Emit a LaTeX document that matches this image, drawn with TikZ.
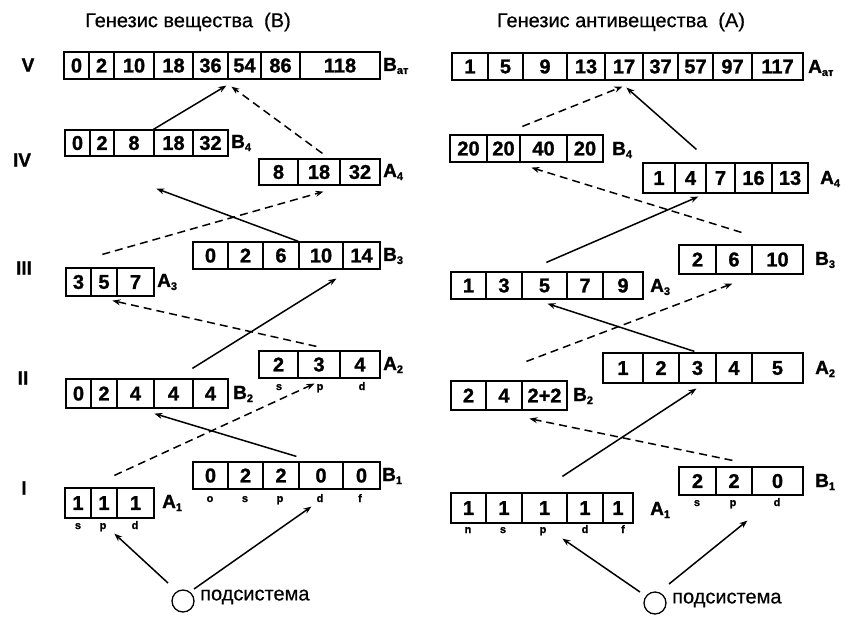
\documentclass[tikz,border=0pt]{standalone}
\usepackage{fontspec}
\setmainfont{Liberation Sans}
\newfontfamily\heavyfont{Liberation Sans Bold}[FakeBold=1.2]
\newfontfamily\titlefont{Liberation Sans}[FakeBold=0.5]
\usetikzlibrary{arrows.meta,calc}

\tikzset{
  num/.style={font=\heavyfont\fontsize{20}{20}\selectfont, inner sep=0pt},
  frame/.style={draw, line width=1.2pt, inner sep=0pt},
  sep/.style={line width=1.2pt},
  lab/.style={font=\heavyfont\fontsize{19}{19}\selectfont, anchor=west, inner sep=0pt},
  orb/.style={font=\heavyfont\fontsize{11}{11}\selectfont, inner sep=0pt, anchor=base},
  roman/.style={font=\heavyfont\fontsize{19}{19}\selectfont, inner sep=0pt},
  heading/.style={font=\titlefont\fontsize{20}{20}\selectfont, inner sep=0pt},
  subsys/.style={draw, circle, line width=1.3pt, minimum size=22pt, inner sep=0pt},
  subtext/.style={font=\titlefont\fontsize{20}{20}\selectfont, anchor=west, inner sep=0pt},
  link/.style={line width=1.5pt, -{Stealth[length=8pt,width=6pt]}},
  dlink/.style={link, dash pattern=on 8pt off 5pt},
}

% label with a lowered small index
\newcommand\subl[2]{#1\raisebox{-3pt}{\fontsize{11}{11}\selectfont #2}}

% a row of numbered cells: name, x left, x right, y top, y bottom, list of cells a/b/value
\newcommand\cellrow[6]{%
  \pgfmathsetmacro\rw{#3-#2}%
  \pgfmathsetmacro\rh{#5-#4}%
  \node[frame, minimum width=\rw pt, minimum height=\rh pt] (#1) at ({(#2+#3)/2},{(#4+#5)/2}) {};
  \foreach \a/\b/\v [count=\k] in {#6} {
    \draw[sep] (\a,#4) -- (\a,#5);
    \node[num] (#1-c\k) at ({(\a+\b)/2},{(#4+#5)/2}) {\v};
  }%
}

\begin{document}
\begin{tikzpicture}[x=1pt,y=-1pt]
\useasboundingbox (0,0) rectangle (845,622);

% ---------------- matter ----------------
\node[heading] (lhead) at (188,22) {Генезис вещества\ \ (B)};

\node[roman] (rV)   at (28,65)  {V};
\node[roman] (rIV)  at (22,160) {IV};
\node[roman] (rIII) at (24,268) {III};
\node[roman] (rII)  at (23,378) {II};
\node[roman] (rI)   at (24,488) {I};

\cellrow{lBat}{64}{380}{52}{79}{64/89/0,89/114/2,114/154/10,154/193/18,193/228/36,228/261/54,261/300/86,300/380/118}
\node[lab] (lBat-l) at (383,66) {\subl{B}{ат}};

\cellrow{lB4}{65}{228}{130}{156}{65/90/0,90/114/2,114/154/8,154/193/18,193/228/32}
\node[lab] (lB4-l) at (231,143) {\subl{B}{4}};

\cellrow{lA4}{259}{380}{159}{185}{259/298/8,298/340/18,340/380/32}
\node[lab] (lA4-l) at (383,172) {\subl{A}{4}};

\cellrow{lB3}{193}{380}{242}{269}{193/228/0,228/263/2,263/299/6,299/343/10,343/380/14}
\node[lab] (lB3-l) at (383,256) {\subl{B}{3}};

\cellrow{lA3}{66}{154}{268}{296}{66/91/3,91/117/5,117/154/7}
\node[lab] (lA3-l) at (157,282) {\subl{A}{3}};

\cellrow{lA2}{259}{380}{351}{378}{259/298/2,298/340/3,340/380/4}
\node[lab] (lA2-l) at (383,365) {\subl{A}{2}};
\foreach \x/\t [count=\k] in {279/s,320/p,362/d} \node[orb] (lA2-o\k) at (\x,390) {\t};

\cellrow{lB2}{66}{228}{379}{408}{66/91/0,91/117/2,117/154/4,154/193/4,193/228/4}
\node[lab] (lB2-l) at (233,394) {\subl{B}{2}};

\cellrow{lB1}{193}{380}{462}{489}{193/228/0,228/263/2,263/299/2,299/343/0,343/380/0}
\node[lab] (lB1-l) at (382,476) {\subl{B}{1}};
\foreach \x/\t [count=\k] in {210/o,245/s,280/p,320/d,360/f} \node[orb] (lB1-o\k) at (\x,502) {\t};

\cellrow{lA1}{65}{154}{488}{518}{65/91/1,91/117/1,117/154/1}
\node[lab] (lA1-l) at (162,503) {\subl{A}{1}};
\foreach \x/\t [count=\k] in {78/s,103/p,135/d} \node[orb] (lA1-o\k) at (\x,529) {\t};

\node[subsys] (lsub) at (183,601) {};
\node[subtext] (lsub-t) at (200,597) {подсистема};

\draw[link]  ($(lB4.north west)+(89,0)$)   -- ($(lBat.south west)+(163,6)$);
\draw[dlink] ($(lA4.north west)+(64,-5)$)  -- ($(lBat.south west)+(168,7)$);
\draw[link]  ($(lB3.north west)+(106,0)$)  -- ($(lB4.south west)+(92,32)$);
\draw[dlink] ($(lA3.north west)+(37,-13)$) -- ($(lA4.south west)+(65,6)$);
\draw[link]  ($(lB2.north west)+(127,-10)$) -- ($(lB3.south west)+(144,9)$);
\draw[dlink] ($(lA2.north west)+(58,-4)$)  -- ($(lA3.south west)+(47,4)$);
\draw[link]  ($(lB1.north west)+(104,-5)$) -- ($(lB2.south west)+(89,5)$);
\draw[dlink] ($(lA1.north west)+(50,-12)$) -- ($(lA2.south west)+(56,5)$);
\draw[link]  ($(lsub.center)+(-15,-18)$)   -- ($(lA1.south west)+(50,15)$);
\draw[link]  ($(lsub.center)+(11,-12)$)    -- ($(lB1.south west)+(119,17)$);

% ---------------- antimatter ----------------
\node[heading] (rhead) at (621,22) {Генезис антивещества\ \ (A)};

\cellrow{rAat}{452}{803}{53}{80}{452/488/1,488/523/5,523/567/9,567/605/13,605/643/17,643/678/37,678/713/57,713/752/97,752/803/117}
\node[lab] (rAat-l) at (808,68) {\subl{A}{ат}};

\cellrow{rB4}{450}{603}{135}{162}{450/487/20,487/520/20,520/567/40,567/603/20}
\node[lab] (rB4-l) at (612,150) {\subl{B}{4}};

\cellrow{rA4}{643}{808}{163}{193}{643/675/1,675/706/4,706/735/7,735/772/16,772/808/13}
\node[lab] (rA4-l) at (820,179) {\subl{A}{4}};

\cellrow{rB3}{679}{803}{245}{274}{679/716/2,716/752/6,752/803/10}
\node[lab] (rB3-l) at (815,260) {\subl{B}{3}};

\cellrow{rA3}{451}{643}{272}{299}{451/486/1,486/522/3,522/567/5,567/603/7,603/643/9}
\node[lab] (rA3-l) at (650,287) {\subl{A}{3}};

\cellrow{rA2}{603}{803}{353}{383}{603/643/1,643/679/2,679/716/3,716/752/4,752/803/5}
\node[lab] (rA2-l) at (815,369) {\subl{A}{2}};

\cellrow{rB2}{451}{567}{381}{410}{451/486/2,486/522/4,522/567/2+2}
\node[lab] (rB2-l) at (573,396) {\subl{B}{2}};

\cellrow{rB1}{679}{803}{467}{495}{679/716/2,716/752/2,752/803/0}
\node[lab] (rB1-l) at (815,482) {\subl{B}{1}};
\foreach \x/\t [count=\k] in {697/s,733/p,777/d} \node[orb] (rB1-o\k) at (\x,506) {\t};

\cellrow{rA1}{451}{633}{493}{523}{451/486/1,486/522/1,522/567/1,567/603/1,603/633/1}
\node[lab] (rA1-l) at (650,510) {\subl{A}{1}};
\foreach \x/\t [count=\k] in {468/n,503/s,543/p,585/d,623/f} \node[orb] (rA1-o\k) at (\x,533) {\t};

\node[subsys] (rsub) at (655,603) {};
\node[subtext] (rsub-t) at (672,600) {подсистема};

\draw[dlink] ($(rB4.north west)+(73,-8)$)  -- ($(rAat.south west)+(171,6)$);
\draw[link]  ($(rA4.north west)+(54,-13)$) -- ($(rAat.south west)+(175,7)$);
\draw[link]  ($(rA3.north west)+(96,-9)$)  -- ($(rA4.south west)+(56,3)$);
\draw[dlink] ($(rB3.north west)+(63,-12)$) -- ($(rB4.south west)+(82,5)$);
\draw[link]  ($(rA2.north west)+(92,-1)$)  -- ($(rA3.south west)+(97,4)$);
\draw[dlink] ($(rB2.north west)+(76,-19)$) -- ($(rB3.south west)+(54,9)$);
\draw[link]  ($(rA1.north west)+(112,-16)$) -- ($(rA2.south west)+(94,5)$);
\draw[dlink] ($(rB1.north west)+(54,-6)$)  -- ($(rB2.south west)+(79,8)$);
\draw[link]  ($(rsub.center)+(-15,-11)$)   -- ($(rA1.south west)+(112,15)$);
\draw[link]  ($(rsub.center)+(14,-19)$)    -- ($(rB1.south west)+(69,25)$);
\end{tikzpicture}
\end{document}
